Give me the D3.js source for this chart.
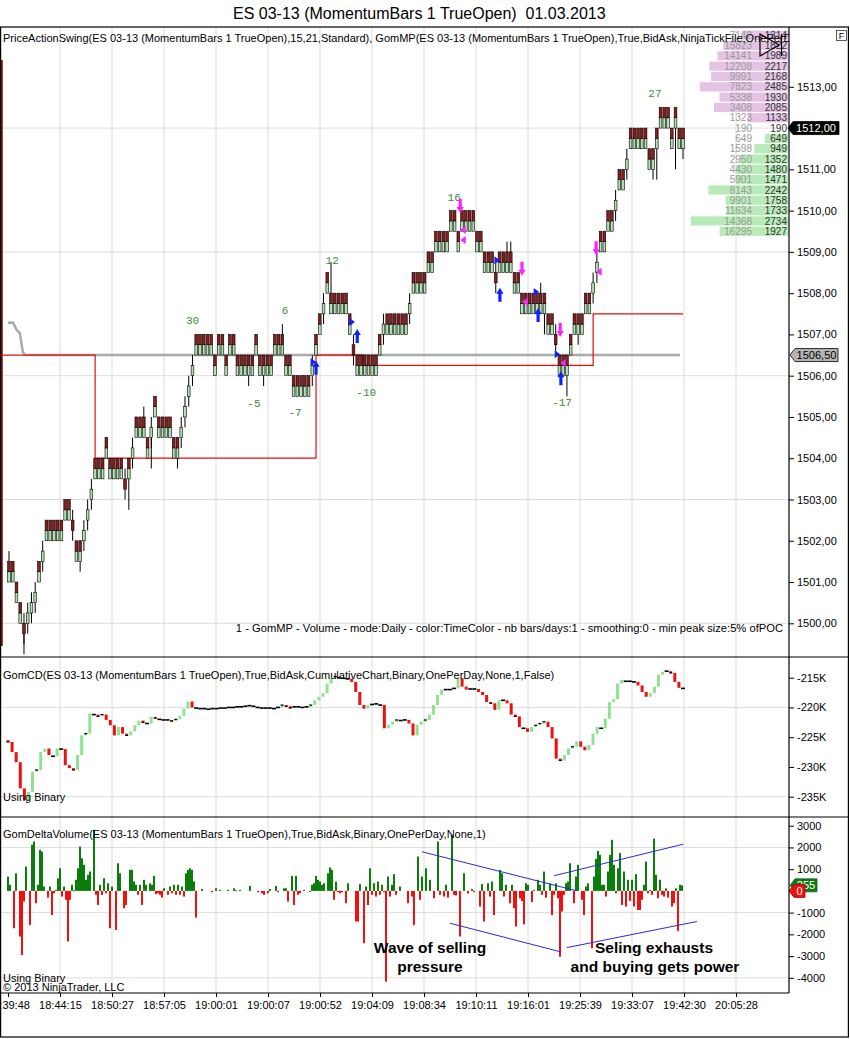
<!DOCTYPE html>
<html>
<head>
<meta charset="utf-8">
<script src="https://cdn.jsdelivr.net/npm/d3@7"></script>
<style>
  body { margin: 0; background: #fff; }
  text { font-family: "Liberation Sans", Arial, sans-serif; }
</style>
</head>
<body>
<svg id="chart" width="850" height="1039"></svg>
<script>
// ---- price bars (momentum bars, 1 tick = 0.25) ----
// level = bottom box in ticks above 1500, kind: b = green+red, g = green only, r = red only
const barLevel = [
  4,4,2,0,-1,0,1,2,4,6,
  8,8,8,8,8,10,10,9,6,6,
  8,10,12,14,14,14,16,14,14,14,
  14,13,14,16,18,18,18,16,18,20,
  18,18,18,18,16,16,18,20,22,24,
  26,26,26,26,26,24,26,26,24,26,
  26,24,24,24,24,24,26,24,24,24,
  24,26,26,26,24,24,22,22,22,22,
  22,24,26,28,30,32,30,30,30,30,
  30,28,26,24,24,24,24,24,24,26,
  28,28,28,28,28,28,28,30,32,32,
  32,32,34,34,36,36,36,36,38,38,
  36,38,38,38,38,36,36,34,34,34,
  33,34,34,34,34,32,32,30,30,30,
  30,30,30,30,28,28,27,24,24,24,
  26,28,28,28,30,30,32,34,36,36,
  38,38,40,42,42,44,46,46,46,46,
  46,44,44,46,48,48,48,46,48,46,
  46
];
const barKind = ("bbbbrgggbg bbbbbbbrbb gggbbbbbbb brbgbbbbgb bbbbbbgggg " +
  "bbbbbbbbbb bbbbbbbbbb bbbbbbbbbb bgbbgbbbbb bbrbbbbbbb " +
  "gbbbbbbgbb bbbbbbbbbb bbbbbbbbbb rbbbbbbbbb bbbbbbrbbb " +
  "bbbbbbggbb bbgbbgbbbb bbbbbbbbbb b").split(' ').join('');

const wickBar = [0, 4, 19, 32, 36, 38, 45, 64, 68, 73, 86, 133, 134, 142, 143, 149, 152, 155, 172, 173, 178, 180];
const wickLo  = [4, -3, 5, 11, 18, 15, 15, 23, 23, 26, 32, 34, 34, 30, 28, 22, 27, 30, 43, 43, 44, 45];
const wickHi  = [7, 0, 8, 14, 21, 18, 18, 26, 26, 29, 35, 37, 37, 33, 32, 26, 30, 32, 46, 46, 48, 48];

const priceTicks = [1500,1501,1502,1503,1504,1505,1506,1507,1508,1509,1510,1511,1512,1513];
const priceGrid = [1500, 1503, 1506, 1509, 1512];

// swing labels: text, bar, price
const swingText  = ['30', '6', '12', '16', '27', '-5', '-7', '-10', '-17'];
const swingBar   = [49, 73.7, 86.3, 118.9, 172.5, 65.4, 76.4, 95.4, 147.7];
const swingPrice = [1507.35, 1507.6, 1508.8, 1510.33, 1512.85, 1505.34, 1505.12, 1505.6, 1505.36];

// swing arrows / triangles
const arrowType  = ['up','up','up','up','up','dn','dn','dn','dn','tr','tr','tr','tr','tr','tl','tl','tl','tl','tl'];
const arrowBar   = [82, 93, 131.1, 141.3, 147.4, 120.5, 137, 147.2, 156.8, 81.2, 91.6, 130.3, 140.8, 146.4, 121.3, 121.3, 137.8, 148, 157.6];
const arrowPrice = [1506.19, 1506.96, 1507.96, 1507.47, 1505.94, 1510.11, 1508.59, 1507.11, 1509.09,
                    1506.33, 1507.3, 1508.8, 1508.03, 1506.52, 1509.53, 1509.29, 1507.79, 1506.31, 1508.52];

// swing level step line [bar, price]
const stepLine = [[-2.5,1506.5],[23,1506.5],[23,1504.0],[82,1504.0],[82,1506.5],[94.5,1506.5],
                  [94.5,1506.25],[156,1506.25],[156,1507.5],[180,1507.5]];
// developing POC line [bar, price]
const pocLine = [[-0.3,1507.28],[1.1,1507.28],[2.1,1507.1],[2.9,1507.03],[3.7,1506.57],[4.3,1506.5],[179.2,1506.5]];

// volume profile (GomMP)
const profPrice = [1514.25,1514,1513.75,1513.5,1513.25,1513,1512.75,1512.5,1512.25,1512,
                   1511.75,1511.5,1511.25,1511,1510.75,1510.5,1510.25,1510,1509.75,1509.5];
const profLeft  = [7142,15823,14141,12208,9991,7823,5338,3408,1323,190,649,1598,2950,4430,5901,8143,9901,11634,14368,16295];
const profRight = [1314,1822,1989,2217,2168,2485,1930,2085,1133,190,649,949,1352,1480,1471,2242,1758,1733,2734,1927];

const lastPrice = 1512.00;
const pocPrice = 1506.50;

// ---- cumulative delta (K) ----
const cdClose = [
  -225.8,-227.5,-229.2,-233.6,-235.6,-234.2,-230.8,-230.5,-227.5,-226.9,
  -228.0,-228.2,-226.9,-227.0,-229.7,-230.2,-230.5,-228.0,-224.7,-224.4,
  -221.0,-221.2,-221.5,-221.2,-222.1,-223.0,-224.7,-223.3,-224.4,-224.7,-224.0,
  -223.0,-222.2,-222.5,-222.7,-221.6,-221.8,-222.0,-222.1,-222.1,-222.3,-222.0,-221.4,-220.2,-219.0,
  -220.0,-220.1,-220.2,-220.2,-220.3,-220.2,-220.2,-220.1,-220.1,-220.0,
  -220.0,-219.9,-219.9,-219.8,-219.7,-219.8,-220.0,-220.1,-220.1,-220.1,
  -220.2,-220.0,-219.6,-219.8,-220.1,-219.9,-219.9,-220.0,-219.9,-219.6,
  -218.8,-218.2,-217.6,-216.0,-215.1,-214.8,-215.0,-215.1,-215.2,-215.7,-217.4,-219.6,-220.2,
  -219.6,-219.5,-219.4,-219.6,-223.5,-222.9,-222.4,-222.1,-222.2,-222.1,-222.7,-224.7,-222.9,-222.4,
  -222.1,-221.2,-219.6,-217.9,-217.0,-217.0,-217.0,-216.8,-215.1,-216.5,
  -217.0,-216.9,-216.9,-217.4,-217.9,-219.1,-219.3,-220.4,-218.8,-218.8,
  -219.3,-221.2,-221.5,-223.3,-223.5,-224.1,-223.3,-223.0,-222.7,-222.4,
  -223.3,-225.2,-228.6,-228.9,-228.0,-226.9,-226.6,-225.7,-226.6,-227.2,
  -226.3,-224.4,-223.3,-223.5,-221.9,-219.1,-218.6,-216.0,-215.4,-215.6,
  -215.6,-215.7,-216.3,-217.4,-218.2,-217.6,-216.5,-214.5,-214.0,-213.9,
  -214.2,-215.7,-216.7,-216.8
];
const cdTicks = [-215, -220, -225, -230, -235];
const cdGrid = [-220, -235];

// ---- delta volume: [bar number, delta] ----
const deltaBars = [
  [0,660],[1,280],[3,-1720],[4,810],[6,-2100],[7,-2950],[8,-490],[9,1120],[11,-1570],[12,2120],
  [13,2270],[14,-570],[15,280],[16,1890],[17,1810],[18,200],[20,-310],[21,200],[22,-1110],[23,-110],
  [24,50],[25,580],[26,1040],[27,-260],[28,200],[29,-410],[30,-2330],[31,-410],[32,280],[33,20],
  [34,510],[35,1040],[36,2040],[37,1500],[38,1200],[39,510],[40,740],[41,890],[43,2810],[44,-180],
  [45,-650],[46,280],[47,-180],[48,580],[49,-110],[50,350],[51,-1720],[52,200],[54,-1800],[55,1270],
  [56,810],[58,-800],[59,-650],[61,970],[62,970],[63,430],[64,280],[65,-180],[66,280],[67,-650],
  [68,510],[69,280],[71,350],[72,280],[73,690],[74,-150],[75,-110],[76,-180],[77,-310],[78,120],
  [80,-180],[81,200],[82,-110],[83,280],[84,-180],[85,280],[86,-180],[87,200],[88,-260],[89,810],
  [90,970],[91,1040],[92,970],[93,430],[94,-1230],[97,90],[102,-60],[104,120],[106,50],[110,50],
  [113,120],[114,30],[116,50],[121,230],[125,-60],[127,-110],[128,-180],[130,-110],[131,90],[134,230],
  [135,-60],[138,120],[139,120],[140,-490],[142,690],[143,-650],[144,690],[145,-180],[146,-110],[148,50],
  [151,-40],[152,280],[153,350],[154,690],[155,510],[156,430],[157,280],[158,350],[160,810],[161,1080],
  [162,970],[163,-410],[164,430],[165,-60],[166,-110],[167,-60],[169,-570],[170,350],[174,-1410],[175,-1410],
  [176,310],[178,-2410],[179,200],[180,-650],[181,1040],[182,-180],[183,350],[184,-260],[185,430],[186,-180],
  [187,280],[188,-60],[189,-4180],[190,660],[191,-260],[192,280],[193,770],[194,-180],[196,200],[200,-570],
  [202,-260],[203,-1570],[205,1580],[206,-410],[207,660],
  [209,1040],[211,510],[213,-340],[215,2270],[216,-180],[218,-260],[219,280],[220,-310],[222,2580],[223,-180],
  [224,-210],[226,-2100],[228,810],[230,-120],[232,90],[233,-60],[236,-720],[237,310],[238,-1410],[240,350],
  [241,-260],[242,430],[243,-1110],[246,970],[247,810],[248,-260],[249,280],[251,-570],[252,280],[253,-800],
  [254,-1640],[256,-340],[257,-460],[258,-1540],[259,350],[260,280],[262,-520],[263,50],[265,510],[266,280],
  [267,-180],[268,890],[269,-310],[271,350],[272,-1110],[273,-180],[274,350],[275,-340],[276,-3030],[277,-950],
  [278,-180],[279,350],[280,430],[281,1270],[283,-570],[284,660],[285,1200],[287,-410],[288,-1110],[289,200],
  [290,350],[292,-2640],[293,660],[294,1470],[295,1840],[296,1660],[297,280],[298,280],[299,-260],[300,890],
  [301,1660],[302,2350],[303,1200],[304,-110],[305,1040],[306,1740],[307,-650],[308,890],[309,-720],[310,510],
  [311,-460],[312,510],[313,-720],[314,770],[315,-880],[316,-880],[317,-410],[318,280],[319,1350],[320,-110],
  [321,50],[322,-180],[323,2400],[324,740],[325,-340],[326,510],[327,-180],[328,-260],[329,120],[330,-310],
  [332,-720],[333,-570],[334,120],[335,-1840],[336,280],[337,255]
];
const deltaTicks = [3000, 2000, 1000, -1000, -2000, -3000, -4000];
const deltaGrid = [2000, -1000, -4000];
const lastDeltaUp = 255, lastDeltaDown = 0;

// trend lines drawn on the delta panel: [price bar, delta]
const trendLines = [
  [[110.3, 1800], [151.7, 0]],
  [[117.8, -1490], [147.2, -2800]],
  [[145.6, 700], [180.1, 2150]],
  [[149, -2610], [183.7, -1410]]
];

const timeLabels = ["18:39:48","18:44:15","18:50:27","18:57:05","19:00:01","19:00:07","19:00:52",
  "19:04:09","19:08:34","19:10:11","19:16:01","19:25:39","19:33:07","19:42:30","20:05:28"];

// ---------------------------------------------------------------
const FONT = '"Liberation Sans", Arial, sans-serif';
const svg = d3.select('#chart');
const plotR = 789;
const panels = [{top: 27, bottom: 657}, {top: 657, bottom: 817}, {top: 817, bottom: 993}];

const defs = svg.append('defs');
panels.forEach((p, k) => {
  defs.append('clipPath').attr('id', 'clip' + k)
    .append('rect').attr('x', 0).attr('y', p.top).attr('width', plotR).attr('height', p.bottom - p.top);
});

const xBar = d3.scaleLinear().domain([0, barLevel.length - 1]).range([9, 683]);
const yPrice = d3.scaleLinear().domain([1500, 1513]).range([623.3, 86.8]);
const tickP = t => 1500 + t * 0.25;
const xTime = d3.scalePoint().domain(timeLabels).range([8, 736]);
const xCD = d3.scaleLinear().domain([0, cdClose.length - 1]).range([8, 683]);
const yCD = d3.scaleLinear().domain([-235, -215]).range([796.7, 677.7]);
const xDelta = d3.scaleLinear().domain([0, 337]).range([8, 682]);
const yDelta = d3.scaleLinear().domain([-4000, 3000]).range([977.8, 825.7]);
const xProf = d3.scaleLinear().domain([0, 2734]).range([0, 97]);

// ---- grids ----
const grid = svg.append('g').attr('stroke', '#dcdcdc').attr('stroke-width', 1);
timeLabels.slice(1).forEach(t => {
  grid.append('line').attr('x1', xTime(t)).attr('x2', xTime(t)).attr('y1', 27).attr('y2', 993);
});
priceGrid.forEach(p => grid.append('line').attr('x1', 0).attr('x2', plotR).attr('y1', yPrice(p)).attr('y2', yPrice(p)));
cdGrid.forEach(v => grid.append('line').attr('x1', 0).attr('x2', plotR).attr('y1', yCD(v)).attr('y2', yCD(v)));
deltaGrid.forEach(v => grid.append('line').attr('x1', 0).attr('x2', plotR).attr('y1', yDelta(v)).attr('y2', yDelta(v)));

// ---- main panel ----
const main = svg.append('g').attr('clip-path', 'url(#clip0)');

// volume profile bars
main.selectAll('.prof').data(profPrice).enter().append('rect')
  .attr('x', (d, i) => 788 - xProf(profRight[i]))
  .attr('y', d => yPrice(d) - 4.6)
  .attr('width', (d, i) => xProf(profRight[i]))
  .attr('height', 9.2)
  .attr('fill', d => d > lastPrice ? '#e4c3e4' : (d < lastPrice ? '#b7ebb7' : 'none'));

// session line
main.append('line').attr('x1', 1.5).attr('x2', 1.5)
  .attr('y1', yPrice(1513.65)).attr('y2', yPrice(1499.45))
  .attr('stroke', '#7a0a0a').attr('stroke-width', 2.5);

const line = d3.line().x(d => xBar(d[0])).y(d => yPrice(d[1]));
main.append('path').attr('d', line(pocLine)).attr('fill', 'none')
  .attr('stroke', '#aaaaaa').attr('stroke-width', 2.5);
main.append('path').attr('d', line(stepLine)).attr('fill', 'none')
  .attr('stroke', '#e01010').attr('stroke-width', 1.2);

// wicks
const wk = main.append('g').attr('stroke', '#000').attr('stroke-width', 1);
wickBar.forEach((b, k) => {
  wk.append('line').attr('x1', xBar(b)).attr('x2', xBar(b))
    .attr('y1', yPrice(tickP(wickLo[k]))).attr('y2', yPrice(tickP(wickHi[k])));
});
barLevel.forEach((L, i) => {
  if (barKind[i] !== 'b') {
    wk.append('line').attr('x1', xBar(i)).attr('x2', xBar(i))
      .attr('y1', yPrice(tickP(L - 1))).attr('y2', yPrice(tickP(L + 2)));
  }
});

// boxes
const boxes = [];
barLevel.forEach((L, i) => {
  const k = barKind[i];
  if (k === 'b') { boxes.push({i, lo: L, c: 'g'}); boxes.push({i, lo: L + 1, c: 'r'}); }
  else boxes.push({i, lo: L, c: k});
});
main.selectAll('.box').data(boxes).enter().append('rect')
  .attr('x', d => xBar(d.i) - 1.35)
  .attr('y', d => yPrice(tickP(d.lo + 1)))
  .attr('width', 2.7)
  .attr('height', d => yPrice(tickP(d.lo)) - yPrice(tickP(d.lo + 1)))
  .attr('fill', d => d.c === 'g' ? '#b2e2b2' : '#8e1a1a')
  .attr('stroke', '#000').attr('stroke-width', 0.6);

// swing labels
main.selectAll('.sw').data(swingText).enter().append('text')
  .attr('x', (d, i) => xBar(swingBar[i]))
  .attr('y', (d, i) => yPrice(swingPrice[i]) + 4)
  .attr('text-anchor', 'middle')
  .style('font-family', '"Liberation Mono", "DejaVu Sans Mono", monospace')
  .attr('font-size', 11).attr('fill', '#3c8a3c').text(d => d);

// arrows
function arrowPath(type, cx, cy) {
  if (type === 'up') return `M${cx},${cy-7}L${cx+3.6},${cy-1}L${cx+1.6},${cy-1}L${cx+1.6},${cy+7}L${cx-1.6},${cy+7}L${cx-1.6},${cy-1}L${cx-3.6},${cy-1}Z`;
  if (type === 'dn') return `M${cx},${cy+7}L${cx+3.6},${cy+1}L${cx+1.6},${cy+1}L${cx+1.6},${cy-7}L${cx-1.6},${cy-7}L${cx-1.6},${cy+1}L${cx-3.6},${cy+1}Z`;
  if (type === 'tr') return `M${cx-2.5},${cy-4}L${cx+3},${cy}L${cx-2.5},${cy+4}Z`;
  return `M${cx+2.5},${cy-4}L${cx-3},${cy}L${cx+2.5},${cy+4}Z`;
}
main.selectAll('.arr').data(arrowType).enter().append('path')
  .attr('d', (d, i) => arrowPath(d, xBar(arrowBar[i]), yPrice(arrowPrice[i])))
  .attr('fill', d => (d === 'up' || d === 'tr') ? '#1020ff' : '#ff22ff');

// profile numbers
main.selectAll('.pl').data(profPrice).enter().append('text')
  .attr('x', 752).attr('y', d => yPrice(d) + 3.6).attr('text-anchor', 'end')
  .attr('font-size', 10).attr('fill', '#9a9a9a').text((d, i) => profLeft[i]);
main.selectAll('.pr').data(profPrice).enter().append('text')
  .attr('x', 787).attr('y', d => yPrice(d) + 3.6).attr('text-anchor', 'end')
  .attr('font-size', 10).attr('fill', '#333').text((d, i) => profRight[i]);

// header labels
main.append('text').attr('x', 3).attr('y', 42).attr('font-size', 11).attr('fill', '#000')
  .text('PriceActionSwing(ES 03-13 (MomentumBars 1 TrueOpen),15,21,Standard), GomMP(ES 03-13 (MomentumBars 1 TrueOpen),True,BidAsk,NinjaTickFile,OnePerDay)');
main.append('text').attr('x', 783).attr('y', 632).attr('text-anchor', 'end').attr('font-size', 11.2).attr('fill', '#000')
  .text('1 - GomMP - Volume - mode:Daily - color:TimeColor - nb bars/days:1 - smoothing:0 - min peak size:5% ofPOC');

// play icon
svg.append('path').attr('d', 'M760,34L779,45L760,56Z M781.5,34L781.5,56')
  .attr('fill', 'none').attr('stroke', '#000').attr('stroke-width', 1.2);

// ---- cumulative delta panel ----
const cd = svg.append('g').attr('clip-path', 'url(#clip1)');
cdClose.forEach((c, i) => {
  const o = i === 0 ? c + 0.3 : cdClose[i - 1];
  const x = xCD(i) - 1.5;
  if (Math.abs(c - o) < 0.2) {
    cd.append('rect').attr('x', x - 0.5).attr('y', yCD(c) - 0.8).attr('width', 4).attr('height', 1.6).attr('fill', '#000');
  } else {
    cd.append('rect').attr('x', x).attr('y', yCD(Math.max(o, c))).attr('width', 3)
      .attr('height', Math.abs(yCD(o) - yCD(c)))
      .attr('fill', c > o ? '#8fe28f' : '#ee1010');
    if (Math.abs(c - o) < 0.5) {
      cd.append('rect').attr('x', x).attr('y', yCD(c) - 0.6).attr('width', 3).attr('height', 1.2).attr('fill', '#000');
    }
  }
});
cd.append('text').attr('x', 3).attr('y', 679).attr('font-size', 11)
  .text('GomCD(ES 03-13 (MomentumBars 1 TrueOpen),True,BidAsk,CumulativeChart,Binary,OnePerDay,None,1,False)');
cd.append('text').attr('x', 3).attr('y', 801).attr('font-size', 11).text('Using Binary');

// ---- delta volume panel ----
const dv = svg.append('g').attr('clip-path', 'url(#clip2)');
dv.selectAll('.dv').data(deltaBars).enter().append('rect')
  .attr('x', d => xDelta(d[0]) - 1)
  .attr('y', d => yDelta(Math.max(0, d[1])))
  .attr('width', 2)
  .attr('height', d => Math.max(1, Math.abs(yDelta(d[1]) - yDelta(0))))
  .attr('fill', d => d[1] >= 0 ? '#0b7d0b' : '#f01010');

dv.selectAll('.tl').data(trendLines).enter().append('line')
  .attr('x1', d => xBar(d[0][0])).attr('y1', d => yDelta(d[0][1]))
  .attr('x2', d => xBar(d[1][0])).attr('y2', d => yDelta(d[1][1]))
  .attr('stroke', '#2a2ad0').attr('stroke-width', 1);

dv.append('text').attr('x', 3).attr('y', 838).attr('font-size', 11)
  .text('GomDeltaVolume(ES 03-13 (MomentumBars 1 TrueOpen),True,BidAsk,Binary,OnePerDay,None,1)');
dv.append('text').attr('x', 3).attr('y', 982).attr('font-size', 11).text('Using Binary');
dv.append('text').attr('x', 3).attr('y', 991).attr('font-size', 11).text('\u00a9 2013 NinjaTrader, LLC');

const notes = [
  {t: 'Wave of selling', x: 430, y: 953}, {t: 'pressure', x: 430, y: 972},
  {t: 'Seling exhausts', x: 654, y: 953}, {t: 'and buying gets power', x: 655, y: 972}
];
dv.selectAll('.note').data(notes).enter().append('text')
  .attr('x', d => d.x).attr('y', d => d.y).attr('text-anchor', 'middle')
  .attr('font-size', 15.5).attr('font-weight', 'bold').attr('fill', '#000').text(d => d.t);

// ---- axes ----
function rightAxis(scale, ticks, fmt) {
  const g = svg.append('g').attr('transform', `translate(${plotR},0)`)
    .call(d3.axisRight(scale).tickValues(ticks).tickFormat(fmt).tickSize(5).tickPadding(3));
  g.select('.domain').remove();
  g.selectAll('text').attr('font-size', 11).attr('fill', '#000').style('font-family', FONT);
  g.selectAll('line').attr('stroke', '#000');
}
rightAxis(yPrice, priceTicks, d => d.toFixed(2).replace('.', ','));
rightAxis(yCD, cdTicks, d => d + 'K');
rightAxis(yDelta, deltaTicks, d => d);

const xa = svg.append('g').attr('transform', 'translate(0,993)')
  .call(d3.axisBottom(xTime).tickSize(4).tickPadding(4));
xa.select('.domain').remove();
xa.selectAll('text').attr('font-size', 11).attr('fill', '#000').style('font-family', FONT);
xa.selectAll('line').attr('stroke', '#000');

// ---- markers ----
function marker(y, x0, w, fill, stroke, txt, txtFill, fs) {
  svg.append('path')
    .attr('d', `M${x0},${y}L${x0 + 5},${y - 6.5}L${x0 + w},${y - 6.5}L${x0 + w},${y + 6.5}L${x0 + 5},${y + 6.5}Z`)
    .attr('fill', fill).attr('stroke', stroke).attr('stroke-width', 0.8);
  svg.append('text').attr('x', x0 + 5 + (w - 5) / 2).attr('y', y + 4).attr('text-anchor', 'middle')
    .attr('font-size', fs).attr('fill', txtFill).text(txt);
}
marker(yPrice(pocPrice), 790, 48, '#b4b4b4', '#000', '1506,50', '#000', 11);
marker(yPrice(lastPrice), 788, 51, '#000', '#000', '1512,00', '#fff', 11);
marker(yDelta(lastDeltaUp), 790, 27, '#127a12', '#063', String(lastDeltaUp), '#fff', 11);
marker(yDelta(lastDeltaDown), 789, 16, '#ee1010', '#a00', String(lastDeltaDown), '#fff', 11);

// ---- borders ----
const bd = svg.append('g').attr('stroke', '#000').attr('stroke-width', 1.2).attr('fill', 'none');
bd.append('rect').attr('x', 0.6).attr('y', 27).attr('width', 847.8).attr('height', 1010);
bd.append('line').attr('x1', plotR).attr('x2', plotR).attr('y1', 27).attr('y2', 993);
bd.append('line').attr('x1', 0).attr('x2', 848).attr('y1', 657).attr('y2', 657);
bd.append('line').attr('x1', 0).attr('x2', 848).attr('y1', 817).attr('y2', 817);
bd.append('line').attr('x1', 0).attr('x2', plotR).attr('y1', 993).attr('y2', 993);

// F box
svg.append('rect').attr('x', 836.5).attr('y', 30.5).attr('width', 10).attr('height', 10)
  .attr('fill', '#fff').attr('stroke', '#333').attr('stroke-width', 0.8);
svg.append('text').attr('x', 841.5).attr('y', 39).attr('text-anchor', 'middle').attr('font-size', 9).text('F');

// title
svg.append('text').attr('x', 233).attr('y', 19).attr('font-size', 16).attr('fill', '#000')
  .style('white-space', 'pre').text('ES 03-13 (MomentumBars 1 TrueOpen)  01.03.2013');
</script>
</body>
</html>
